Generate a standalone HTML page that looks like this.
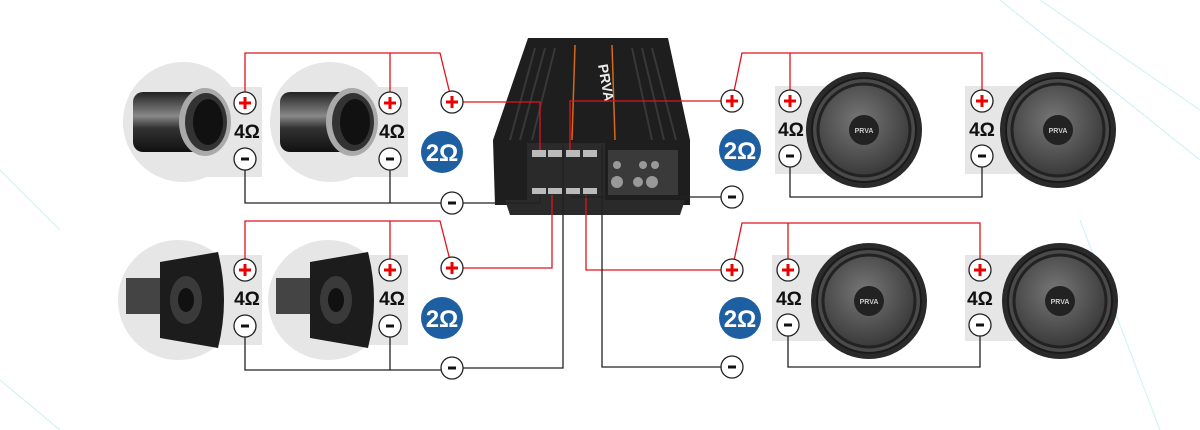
<!DOCTYPE html>
<html><head><meta charset="utf-8"><style>
html,body{margin:0;padding:0;background:#fff;}
svg{display:block;font-family:"Liberation Sans",sans-serif;}
</style></head><body>
<svg width="1200" height="430" viewBox="0 0 1200 430" xmlns="http://www.w3.org/2000/svg">
<defs>
<g id="plus"><circle r="11" fill="#fff" stroke="#222" stroke-width="1.3"/><rect x="-6" y="-1.5" width="12" height="3" fill="#e00"/><rect x="-1.5" y="-6" width="3" height="12" fill="#e00"/></g>
<g id="minus"><circle r="11" fill="#fff" stroke="#222" stroke-width="1.3"/><rect x="-4" y="-1.5" width="8" height="3" fill="#111"/></g>
<g id="ohm2"><circle r="21" fill="#1d5fa0"/><text x="0" y="9" text-anchor="middle" font-size="24" font-weight="bold" fill="#fff">2Ω</text></g>
<radialGradient id="cone" cx="45%" cy="40%" r="60%"><stop offset="0" stop-color="#777"/><stop offset="1" stop-color="#3a3a3a"/></radialGradient>
<linearGradient id="metal" x1="0" y1="0" x2="0" y2="1"><stop offset="0" stop-color="#222"/><stop offset="0.4" stop-color="#888"/><stop offset="0.6" stop-color="#333"/><stop offset="1" stop-color="#111"/></linearGradient>
<g id="woofer"><circle r="58" fill="#2a2a2a"/><circle r="52" fill="#4a4a4a" stroke="#1a1a1a" stroke-width="2"/><circle r="46" fill="url(#cone)" stroke="#222" stroke-width="3"/><circle r="15" fill="#222"/><text x="0" y="3" text-anchor="middle" font-size="7" font-weight="bold" fill="#ccc">PRVA</text></g>
<g id="driver"><circle r="60" fill="#e6e6e6"/><rect x="-50" y="-30" width="80" height="60" rx="10" fill="url(#metal)"/><ellipse cx="22" cy="0" rx="26" ry="34" fill="#aaa"/><ellipse cx="23" cy="0" rx="21" ry="29" fill="#333"/><ellipse cx="25" cy="0" rx="15" ry="23" fill="#111"/></g>
<g id="horn"><circle r="60" fill="#e6e6e6"/><rect x="-52" y="-22" width="36" height="36" fill="#444"/><path d="M-18,-38 L40,-48 Q52,0 40,48 L-18,38 Z" fill="#1c1c1c"/><ellipse cx="8" cy="0" rx="16" ry="24" fill="#3a3a3a"/><ellipse cx="8" cy="0" rx="8" ry="12" fill="#111"/></g>
</defs>
<g stroke="#d6f1f5" stroke-width="1.2" fill="none">
<line x1="1000" y1="0" x2="1200" y2="160"/><line x1="1040" y1="0" x2="1200" y2="110"/><line x1="0" y1="170" x2="60" y2="230"/><line x1="0" y1="380" x2="60" y2="430"/><line x1="1080" y1="220" x2="1160" y2="430"/>
</g>
<rect x="190" y="87" width="72" height="90" fill="#e6e6e6"/><use href="#driver" x="183" y="122"/>
<rect x="332" y="87" width="76" height="90" fill="#e6e6e6"/><use href="#driver" x="330" y="122"/>
<rect x="190" y="255" width="72" height="90" fill="#e6e6e6"/><use href="#horn" x="178" y="300"/>
<rect x="332" y="255" width="76" height="90" fill="#e6e6e6"/><use href="#horn" x="328" y="300"/>
<rect x="775" y="86" width="62" height="88" fill="#e6e6e6"/><use href="#woofer" x="864" y="130"/>
<rect x="965" y="86" width="60" height="88" fill="#e6e6e6"/><use href="#woofer" x="1058" y="130"/>
<rect x="772" y="255" width="64" height="86" fill="#e6e6e6"/><use href="#woofer" x="869" y="301"/>
<rect x="965" y="255" width="60" height="86" fill="#e6e6e6"/><use href="#woofer" x="1060" y="301"/>
<!-- amp -->
<path d="M528,38 L668,38 L690,140 L690,205 L495,205 L493,140 Z" fill="#1e1e1e"/>
<g stroke="#383838" stroke-width="2"><line x1="535" y1="48" x2="510" y2="140"/><line x1="545" y1="48" x2="520" y2="140"/><line x1="555" y1="48" x2="532" y2="140"/><line x1="632" y1="48" x2="652" y2="140"/><line x1="642" y1="48" x2="664" y2="140"/><line x1="652" y1="48" x2="676" y2="140"/></g>
<line x1="575" y1="45" x2="572" y2="140" stroke="#d46a1a" stroke-width="1.5"/><line x1="612" y1="45" x2="615" y2="140" stroke="#d46a1a" stroke-width="1.5"/>
<text x="598" y="65" font-size="14" font-weight="bold" fill="#eee" transform="rotate(80 598 65)">PRVA</text>
<rect x="527" y="143" width="78" height="60" fill="#2a2a2a"/>
<g fill="#bbb"><rect x="532" y="150" width="14" height="7"/><rect x="548" y="150" width="14" height="7"/><rect x="566" y="150" width="14" height="7"/><rect x="583" y="150" width="14" height="7"/><rect x="532" y="188" width="14" height="6"/><rect x="548" y="188" width="14" height="6"/><rect x="566" y="188" width="14" height="6"/><rect x="583" y="188" width="14" height="6"/></g>
<rect x="608" y="150" width="70" height="45" fill="#3a3a3a"/>
<g fill="#999"><circle cx="617" cy="165" r="4"/><circle cx="643" cy="165" r="4"/><circle cx="655" cy="165" r="4"/><circle cx="617" cy="182" r="6"/><circle cx="638" cy="182" r="5"/><circle cx="652" cy="182" r="6"/></g>
<path d="M505,200 L685,200 L680,215 L510,215 Z" fill="#2a2a2a"/>
<g stroke="#e0141c" stroke-width="1.3" fill="none">
<polyline points="245,92 245,53 440,53 452,102"/><line x1="390" y1="53" x2="390" y2="92"/>
<polyline points="463,102 540,102 540,150"/>
<polyline points="245,259 245,221 440,221 452,268"/><line x1="390" y1="221" x2="390" y2="259"/>
<polyline points="463,268 552,268 552,195"/>
<polyline points="732,101 742,53 982,53 982,90"/><line x1="790" y1="53" x2="790" y2="90"/>
<polyline points="721,101 570,101 570,150"/>
<polyline points="732,270 742,223 980,223 980,259"/><line x1="788" y1="223" x2="788" y2="259"/>
<polyline points="721,270 586,270 586,195"/>
</g>
<g stroke="#222" stroke-width="1.3" fill="none">
<polyline points="245,170 245,203 441,203"/><line x1="390" y1="170" x2="390" y2="203"/>
<polyline points="463,203 540,203 540,196"/>
<polyline points="245,336 245,370 441,370"/><line x1="390" y1="336" x2="390" y2="370"/>
<polyline points="463,368 563,368 563,145"/>
<polyline points="790,167 790,197 982,197 982,167"/><polyline points="721,197 570,197"/>
<polyline points="788,336 788,367 980,367 980,336"/><polyline points="721,367 602,367 602,145"/>
</g>
<use href="#plus" x="245" y="103"/><use href="#minus" x="245" y="159"/>
<use href="#plus" x="390" y="103"/><use href="#minus" x="390" y="159"/>
<use href="#plus" x="452" y="102"/><use href="#minus" x="452" y="203"/>
<use href="#plus" x="245" y="270"/><use href="#minus" x="245" y="326"/>
<use href="#plus" x="390" y="270"/><use href="#minus" x="390" y="326"/>
<use href="#plus" x="452" y="268"/><use href="#minus" x="452" y="368"/>
<use href="#plus" x="732" y="101"/><use href="#minus" x="732" y="197"/>
<use href="#plus" x="790" y="101"/><use href="#minus" x="790" y="156"/>
<use href="#plus" x="982" y="101"/><use href="#minus" x="982" y="156"/>
<use href="#plus" x="732" y="270"/><use href="#minus" x="732" y="367"/>
<use href="#plus" x="788" y="270"/><use href="#minus" x="788" y="325"/>
<use href="#plus" x="980" y="270"/><use href="#minus" x="980" y="325"/>
<g font-size="19" font-weight="bold" fill="#111" text-anchor="middle">
<text x="247" y="138">4Ω</text><text x="392" y="138">4Ω</text>
<text x="247" y="305">4Ω</text><text x="392" y="305">4Ω</text>
<text x="791" y="136">4Ω</text><text x="982" y="136">4Ω</text>
<text x="789" y="305">4Ω</text><text x="980" y="305">4Ω</text>
</g>
<use href="#ohm2" x="442" y="152"/><use href="#ohm2" x="740" y="150"/>
<use href="#ohm2" x="442" y="318"/><use href="#ohm2" x="740" y="318"/>
</svg>
</body></html>
